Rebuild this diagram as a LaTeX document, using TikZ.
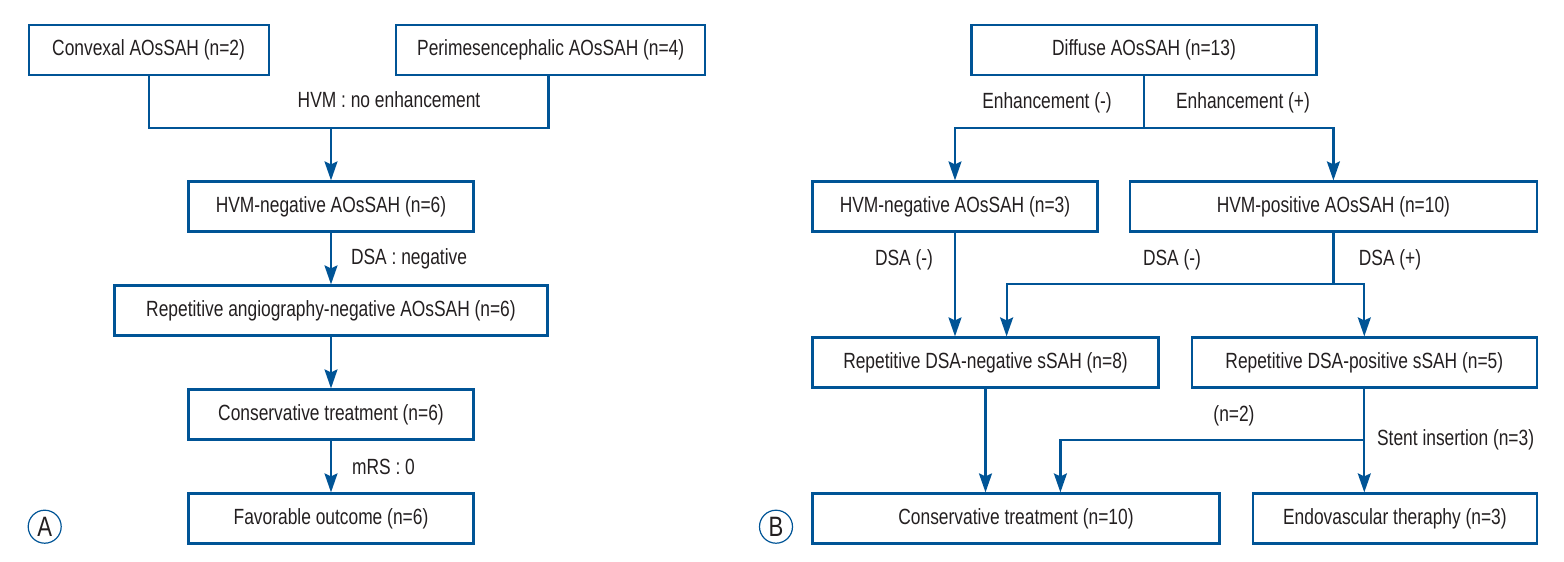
\documentclass[tikz,border=0pt]{standalone}
\usepackage{fontspec}
\setmainfont{Liberation Sans}[FakeStretch=0.79]
\usetikzlibrary{arrows.meta}
\definecolor{flowblue}{RGB}{0,84,150}
\definecolor{ink}{RGB}{35,31,32}

\begin{document}
\begin{tikzpicture}[x=0.5pt,y=-0.5pt,
    font=\fontsize{11}{12}\selectfont,text=ink,
    line width=1.1pt,draw=flowblue,
    ->/.style={draw=flowblue,-{Stealth[length=9.5pt,width=6.5pt,inset=1.5pt]}}]

      \useasboundingbox (0,0) rectangle (1564,562);

      \begin{scope}[every node/.style={draw=flowblue,line width=1.1pt,rectangle,minimum height=25pt,inner sep=0pt}]
        \node[minimum width=120pt] (conv) at (148.6,50) {Convexal AOsSAH (n=2)};
        \node[minimum width=154.5pt] (peri) at (550.7,50) {Perimesencephalic AOsSAH (n=4)};
        \node[minimum width=142.5pt] (hvmneg) at (331,206.5) {HVM-negative AOsSAH (n=6)};
        \node[minimum width=216.5pt] (repang) at (331,310.5) {Repetitive angiography-negative AOsSAH (n=6)};
        \node[minimum width=142.5pt] (cons) at (331,414.5) {Conservative treatment (n=6)};
        \node[minimum width=142.5pt] (fav) at (331,518.5) {Favorable outcome (n=6)};

        \node[minimum width=172.5pt] (diff) at (1144,50) {Diffuse AOsSAH (n=13)};
        \node[minimum width=142.5pt] (hneg) at (955,206.5) {HVM-negative AOsSAH (n=3)};
        \node[minimum width=203.5pt] (hpos) at (1333.4,206.5) {HVM-positive AOsSAH (n=10)};
        \node[minimum width=173pt] (rneg) at (985.5,362.5) {Repetitive DSA-negative sSAH (n=8)};
        \node[minimum width=172.5pt] (rpos) at (1364.3,362.5) {Repetitive DSA-positive sSAH (n=5)};
        \node[minimum width=203.5pt] (consb) at (1016,518.5) {Conservative treatment (n=10)};
        \node[minimum width=142pt] (endo) at (1394.9,518.5) {Endovascular theraphy (n=3)};
      \end{scope}

      \begin{scope}[every node/.style={circle,draw=flowblue,line width=0.6pt,minimum size=16.5pt,inner sep=0pt,font=\fontsize{14}{14}\selectfont}]
        \node (tagA) at (44.7,526.7) {A};
        \node (tagB) at (776,526.7) {B};
      \end{scope}

      \coordinate (jL) at (331,127.7);
      \coordinate (jL2) at (548.4,127.7);
      \coordinate (jR) at (1144,127.7);
      \coordinate (jD) at (1333.4,284);
      \coordinate (jD1) at (1006.6,284);
      \coordinate (jS) at (1364.3,440);
      \coordinate (jC) at (1060.4,440);

      \draw (conv.south) |- (jL) -- (jL2) -- (jL2 |- peri.south);
      \draw[->] (jL) -- (hvmneg.north);
      \draw[->] (hvmneg.south) -- (repang.north);
      \draw[->] (repang.south) -- (cons.north);
      \draw[->] (cons.south) -- (fav.north);

      \draw (diff.south) -- (jR);
      \draw[->] (jR) -| (hneg.north);
      \draw[->] (jR) -| (hpos.north);
      \draw[->] (hneg.south) -- (hneg.south |- rneg.north);
      \draw (hpos.south) -- (jD);
      \draw[->] (jD) -| (rpos.north);
      \draw[->] (jD) -- (jD1) -- (jD1 |- rneg.north);
      \draw[->] (rneg.south) -- (rneg.south |- consb.north);
      \draw[->] (rpos.south) -- (rpos.south |- endo.north);
      \draw[->] (jS) -- (jC) -- (jC |- consb.north);

      \begin{scope}[every node/.style={inner sep=0pt}]
        \node (lblhvm) at (389,100) {HVM : no enhancement};
        \node[anchor=west] (lbldsa) at (350,259) {DSA : negative};
        \node[anchor=west] (lblmrs) at (351,467) {mRS : 0};
        \node (lblenm) at (1047,103) {Enhancement (-)};
        \node (lblenp) at (1243,103) {Enhancement (+)};
        \node (lbldm1) at (904,260) {DSA (-)};
        \node (lbldm2) at (1172,260) {DSA (-)};
        \node (lbldp) at (1390,260) {DSA (+)};
        \node (lbln2) at (1234,416) {(n=2)};
        \node[anchor=west] (lblstent) at (1376,440) {Stent insertion (n=3)};
      \end{scope}

    \end{tikzpicture}
\end{document}
